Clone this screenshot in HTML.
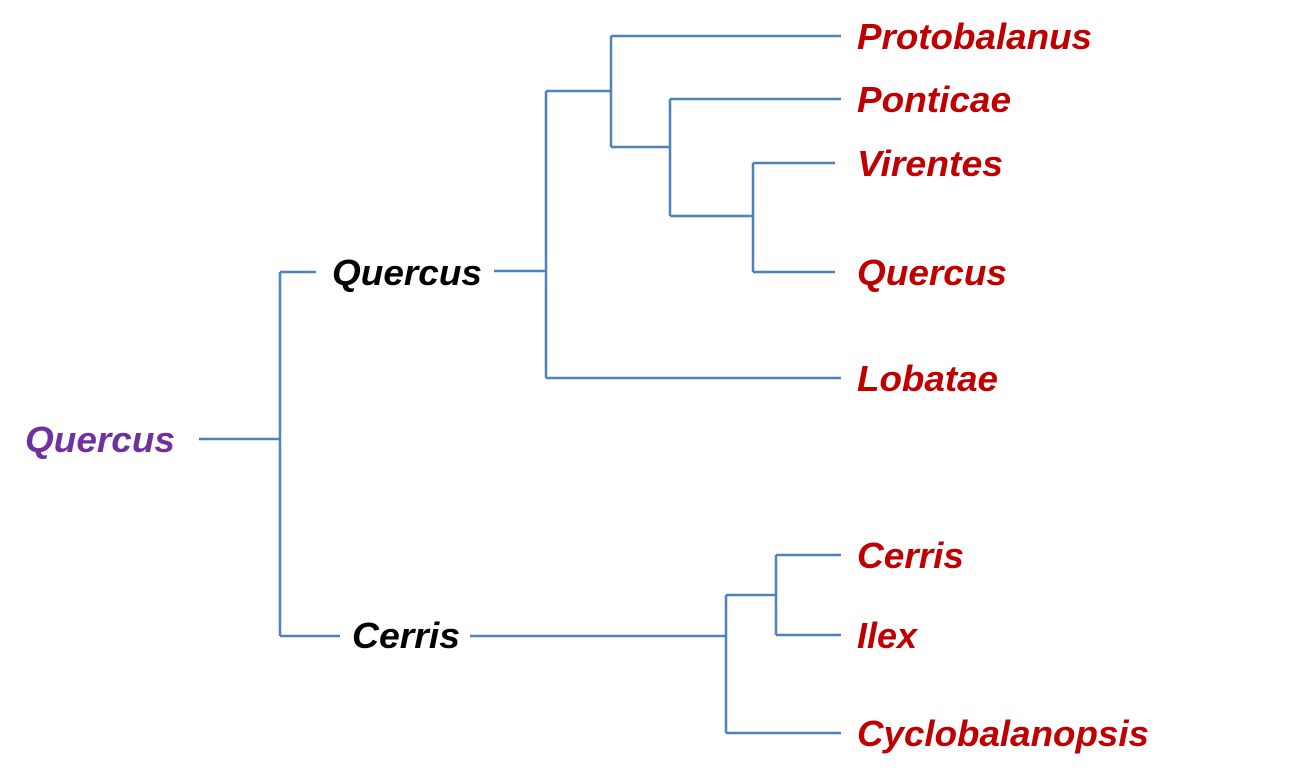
<!DOCTYPE html>
<html><head><meta charset="utf-8"><style>
html,body{margin:0;padding:0;background:#fff;width:1302px;height:778px;overflow:hidden}
text{font-family:"Liberation Sans",Arial,sans-serif;font-weight:bold;font-style:italic;font-size:36px}
</style></head><body>
<svg width="1302" height="778" xmlns="http://www.w3.org/2000/svg">
<g stroke="#4f81bd" stroke-width="2.5" fill="none">
<path d="M199 439H280M280 272V636M280 272H316M494 271H546M546 91V378M546 91H611M611 36V147M611 36H841M611 147H670M670 99V216M670 99H841M670 216H753M753 163V272M753 163H835M753 272H835M546 378H841"/>
<path d="M280 636H340M470 636H726M726 595V733M726 595H776M776 555V635M776 555H841M776 635H841M726 733H841"/>
</g>
<text x="25" y="452" fill="#7030a0" textLength="150" lengthAdjust="spacingAndGlyphs">Quercus</text>
<text x="332" y="285" fill="#000" textLength="150" lengthAdjust="spacingAndGlyphs">Quercus</text>
<text x="352" y="648" fill="#000" textLength="108" lengthAdjust="spacingAndGlyphs">Cerris</text>
<g fill="#c00000">
<text x="857" y="49" textLength="235" lengthAdjust="spacingAndGlyphs">Protobalanus</text>
<text x="857" y="112" textLength="154" lengthAdjust="spacingAndGlyphs">Ponticae</text>
<text x="857" y="176" textLength="146" lengthAdjust="spacingAndGlyphs">Virentes</text>
<text x="857" y="285" textLength="150" lengthAdjust="spacingAndGlyphs">Quercus</text>
<text x="857" y="391" textLength="141" lengthAdjust="spacingAndGlyphs">Lobatae</text>
<text x="857" y="568" textLength="107" lengthAdjust="spacingAndGlyphs">Cerris</text>
<text x="857" y="648" textLength="60" lengthAdjust="spacingAndGlyphs">Ilex</text>
<text x="857" y="746" textLength="292" lengthAdjust="spacingAndGlyphs">Cyclobalanopsis</text>
</g>
</svg>
</body></html>
